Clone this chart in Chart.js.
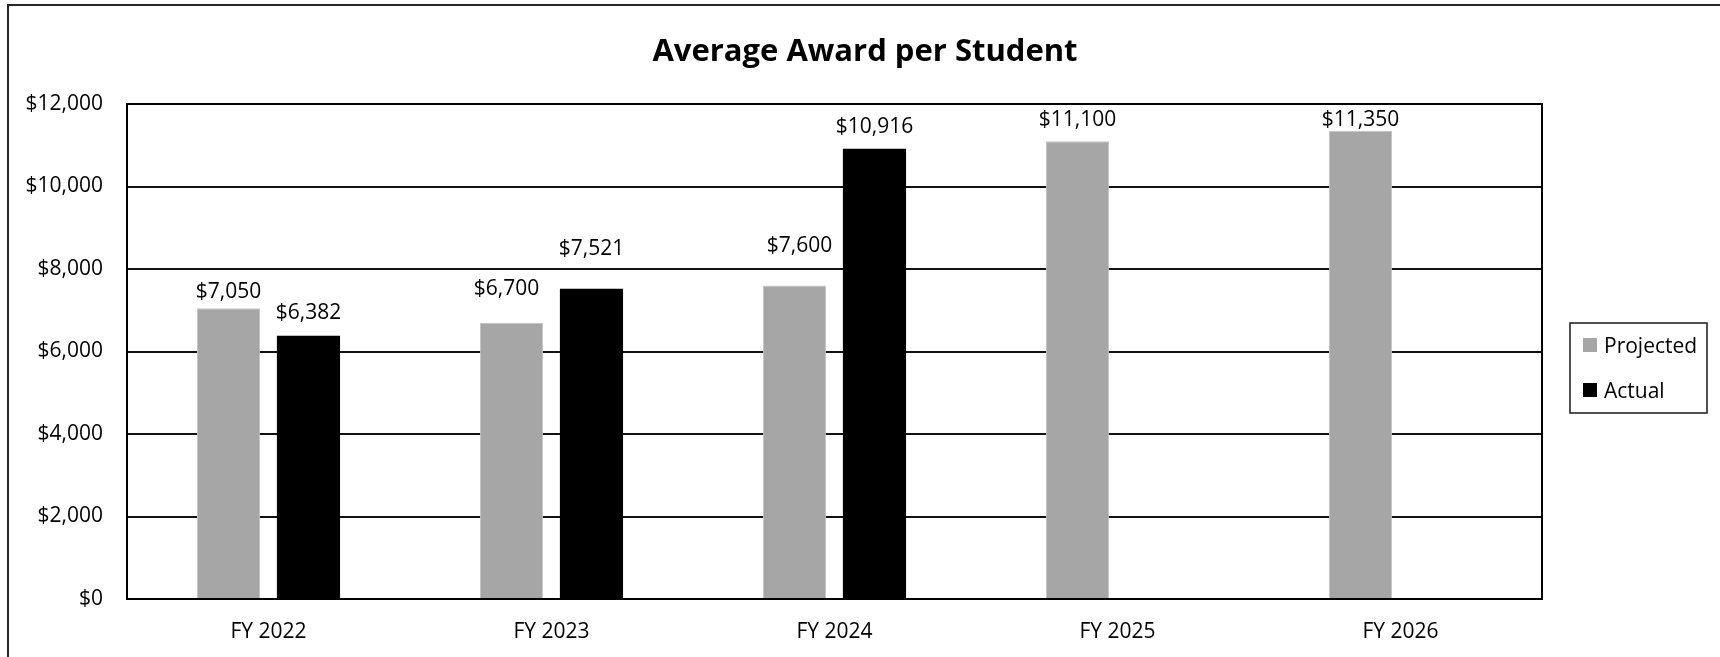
<!DOCTYPE html>
<html>
<head>
<meta charset="utf-8">
<title>Average Award per Student</title>
<script src="https://cdn.jsdelivr.net/npm/chart.js@4"></script>
<style>
    html, body { margin: 0; padding: 0; background: #fff; }
    #wrap { position: absolute; left: 0; top: 0; width: 1720px; height: 657px; }
</style>
</head>
<body>
<div id="wrap"><canvas id="awardChart" width="1720" height="657"></canvas></div>
<script>
// Chart data
const fiscalYears = ['FY 2022', 'FY 2023', 'FY 2024', 'FY 2025', 'FY 2026'];
const projectedAward = [7050, 6700, 7600, 11100, 11350];
const actualAward = [6382, 7521, 10916, null, null];
const yTicks = [0, 2000, 4000, 6000, 8000, 10000, 12000];

// Value label placement (pixels above the bar top, horizontal nudge)
const labelLift = { Projected: [16, 34, 39, 21, 11], Actual: [23, 40, 22] };
const labelNudge = { Projected: [0, -5, 5, 0, 0], Actual: [0, 0, 0] };

const FONT = '"Open Sans", "DejaVu Sans", sans-serif';

function money(v) {
    return '$' + v.toLocaleString('en-US');
}

// Draws the outer frame, title, plot border, value labels and legend
const decorations = {
    id: 'decorations',
    beforeDraw(chart) {
        const ctx = chart.ctx;
        ctx.save();
        ctx.fillStyle = '#fff';
        ctx.fillRect(0, 0, chart.width, chart.height);
        ctx.restore();
    },
    afterDraw(chart) {
        const ctx = chart.ctx;
        const area = chart.chartArea;
        ctx.save();

        // outer frame
        ctx.strokeStyle = '#262626';
        ctx.lineWidth = 2;
        ctx.strokeRect(8, 5, 1730, 700);

        // plot border
        ctx.strokeStyle = '#000';
        ctx.lineWidth = 2;
        ctx.strokeRect(area.left, area.top, area.right - area.left, area.bottom - area.top);

        // title
        ctx.fillStyle = '#000';
        ctx.font = 'bold 31px ' + FONT;
        ctx.textAlign = 'center';
        ctx.textBaseline = 'alphabetic';
        ctx.fillText('Average Award per Student', 865, 61);

        // value labels
        ctx.font = '21px ' + FONT;
        ctx.textBaseline = 'middle';
        chart.data.datasets.forEach((ds, di) => {
            const meta = chart.getDatasetMeta(di);
            meta.data.forEach((bar, i) => {
                const v = ds.data[i];
                if (v === null || v === undefined) return;
                const lift = labelLift[ds.label][i];
                const nudge = labelNudge[ds.label][i];
                ctx.fillText(money(v), bar.x + nudge, bar.y - lift);
            });
        });

        // legend
        const lx = 1570, ly = 323, lw = 137, lh = 90;
        ctx.strokeStyle = '#1a1a1a';
        ctx.lineWidth = 1.5;
        ctx.strokeRect(lx, ly, lw, lh);
        ctx.textAlign = 'left';
        chart.data.datasets.forEach((ds, di) => {
            const rowY = 345 + di * 45;
            ctx.fillStyle = ds.backgroundColor;
            ctx.fillRect(1583, rowY - 7, 14, 14);
            ctx.fillStyle = '#000';
            ctx.fillText(ds.label, 1604, rowY + 2);
        });

        ctx.restore();
    }
};

new Chart(document.getElementById('awardChart'), {
    type: 'bar',
    data: {
        labels: fiscalYears,
        datasets: [{
            label: 'Projected',
            data: projectedAward,
            backgroundColor: '#a6a6a6',
            borderColor: '#c4c4c4',
            borderWidth: 1,
            categoryPercentage: 0.565,
            barPercentage: 0.79
        }, {
            label: 'Actual',
            data: actualAward,
            backgroundColor: '#000000',
            categoryPercentage: 0.565,
            barPercentage: 0.79
        }]
    },
    options: {
        responsive: false,
        animation: false,
        layout: {
            padding: { top: 104, right: 178, bottom: 0, left: 0 }
        },
        plugins: {
            legend: { display: false },
            title: { display: false },
            tooltip: { enabled: false }
        },
        scales: {
            x: {
                grid: { display: false, drawTicks: false },
                border: { display: false },
                ticks: {
                    color: '#000',
                    padding: 20,
                    font: { family: FONT, size: 21 }
                },
                afterFit(scale) { scale.height = 58; }
            },
            y: {
                min: 0,
                max: 12000,
                grid: { color: '#111', lineWidth: 2, drawTicks: false },
                border: { display: false },
                afterBuildTicks(scale) {
                    scale.ticks = yTicks.map(v => ({ value: v }));
                },
                ticks: {
                    color: '#000',
                    padding: 24,
                    font: { family: FONT, size: 21 },
                    callback: v => money(v)
                },
                afterFit(scale) { scale.width = 127; }
            }
        }
    },
    plugins: [decorations]
});
</script>
</body>
</html>
